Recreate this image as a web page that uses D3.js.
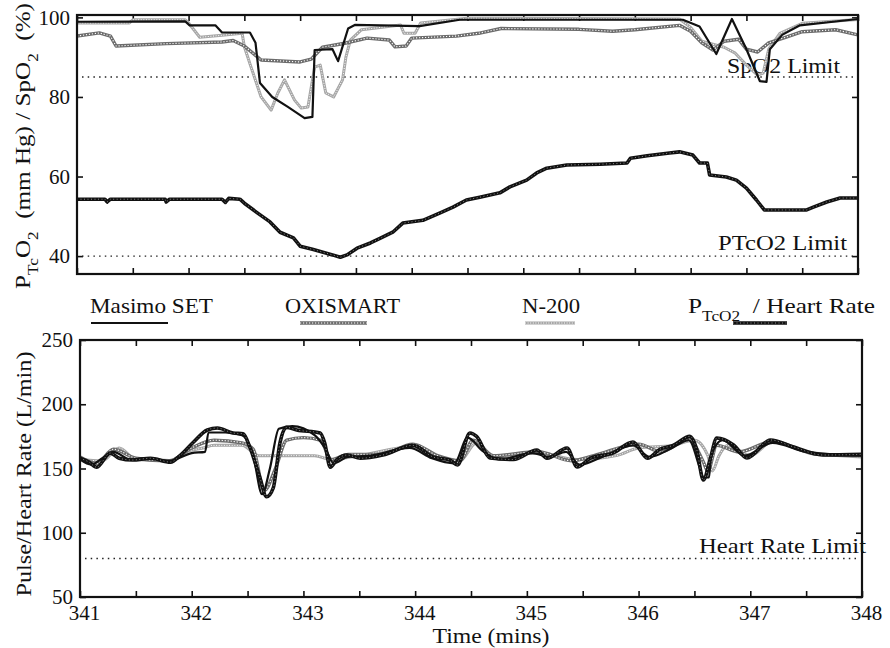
<!DOCTYPE html>
<html>
<head>
<meta charset="utf-8">
<script src="https://cdn.jsdelivr.net/npm/d3@7"></script>
<style>
  body { margin: 0; background: #fff; }
  svg text { font-family: "Liberation Serif", "Times New Roman", serif; fill: #111; }
</style>
</head>
<body>
<svg id="chart" width="890" height="648"></svg>
<script>
// ---- DATA ----
const timeTicks = [341, 341.5, 342, 342.5, 343, 343.5, 344, 344.5, 345, 345.5, 346, 346.5, 347, 347.5, 348];
const satTicks = [40, 60, 80, 100];
const rateTicks = [50, 100, 150, 200, 250];

const spo2Limit = 85;
const ptco2Limit = 40;
const hrLimit = 80;

const legendNames = ["Masimo SET", "OXISMART", "N-200", "PTcO2 / Heart Rate"];

// top panel: [time (mins), value]
const masimoSpo2 = [[341,98.9],[341.97,99],[342.01,98],[342.24,98],[342.3,96.2],[342.55,96.2],[342.6,93.6],[342.64,83.5],
  [342.75,80],[342.89,77.5],[343.04,74.7],[343.11,75],[343.13,91.8],[343.29,92],[343.34,89],[343.43,97.2],[343.49,98.1],
  [344.07,97.8],[344.43,99.4],[346.43,99.4],[346.58,97.7],[346.73,90.8],[346.87,99.6],[347.0,92],[347.12,84],[347.18,83.8],
  [347.21,92],[347.32,95.6],[347.48,98],[348,99.6]];

const oxismartSpo2 = [[341,95.3],[341.2,96.1],[341.3,95.3],[341.35,92.8],[341.8,93.4],[342.3,93.8],[342.4,94.2],[342.5,92.8],
  [342.65,89.3],[343.0,88.8],[343.1,89.5],[343.2,92.5],[343.4,93.5],[343.6,94.8],[343.8,94.3],[343.85,92.6],[343.95,92.8],
  [344.0,94.8],[344.4,95.3],[344.6,96.0],[344.8,97.2],[345.5,97.0],[345.8,96.5],[346.0,96.9],[346.4,98.0],[346.5,96.5],
  [346.6,93.6],[346.7,91.8],[346.8,94],[346.93,94.5],[347.0,92],[347.1,91.3],[347.2,93.6],[347.35,95],[347.5,96.4],
  [347.8,96.9],[348,95.6]];

const n200Spo2 = [[341,98.6],[341.47,98.6],[341.5,99.4],[341.97,99.4],[342.0,98.6],[342.1,95],[342.3,95.5],[342.48,96],
  [342.5,92.6],[342.56,87.5],[342.65,80],[342.74,76.7],[342.8,81],[342.86,84.3],[342.95,79.2],[343.01,77.2],[343.07,77.5],
  [343.13,87.5],[343.18,88],[343.23,81],[343.3,80],[343.38,84.3],[343.41,90],[343.45,94.3],[343.55,96.9],[343.9,98.1],
  [343.93,96],[344.03,96],[344.08,98.6],[344.5,99.8],[346.4,99.6],[346.5,97.5],[346.6,94],[346.8,92.5],[346.9,91],
  [347.0,88],[347.1,85.5],[347.15,86],[347.2,92],[347.3,96],[347.5,98.5],[348,99.5]];

const ptco2 = [[341,54.3],[341.25,54.3],[341.27,53.6],[341.3,54.3],[341.79,54.3],[341.8,53.6],[341.83,54.3],[342.3,54.3],
  [342.33,53.5],[342.36,54.5],[342.46,54.3],[342.5,53.3],[342.61,51.0],[342.73,48.6],[342.82,46.0],[342.94,44.6],
  [343.0,42.5],[343.11,41.7],[343.29,40.3],[343.36,39.7],[343.42,40.3],[343.51,42.0],[343.63,43.3],[343.72,44.5],
  [343.83,46.0],[343.92,48.3],[344.1,49.0],[344.25,50.8],[344.37,52.3],[344.49,54.1],[344.61,54.8],[344.79,55.9],
  [344.88,57.4],[345.03,59.1],[345.12,60.9],[345.21,62.1],[345.39,62.9],[345.69,63.1],[345.93,63.4],[345.96,64.6],
  [346.11,65.2],[346.31,65.9],[346.4,66.2],[346.52,65.4],[346.58,63.4],[346.65,63.4],[346.67,60.4],[346.82,59.9],
  [346.91,59.1],[347.0,57.1],[347.09,54.1],[347.16,51.6],[347.54,51.6],[347.6,52.3],[347.72,53.6],[347.84,54.6],[348,54.6]];

// bottom panel: [time (mins), rate]
const masimoRate = [[341,157],[341.1,153],[341.2,158],[341.3,163],[341.45,157],[341.6,158],[341.8,156],[342.0,162],
  [342.12,163],[342.15,178],[342.3,178],[342.45,176],[342.55,160],[342.63,130],[342.7,150],[342.78,181],[342.9,183],
  [343.1,176],[343.2,165],[343.27,154],[343.4,159],[343.6,160],[343.95,166],[344.15,158],[344.35,154],[344.47,174],
  [344.6,164],[344.75,157],[345.05,162],[345.2,159],[345.35,163],[345.47,153],[345.7,160],[345.95,168],[346.1,159],
  [346.3,166],[346.45,172],[346.55,150],[346.58,143],[346.63,143],[346.65,160],[346.75,172],[346.95,160],[347.2,170],
  [347.5,163],[348,160]];

const oxismartRate = [[341,159],[341.15,154],[341.3,165],[341.5,158],[341.8,156],[342.0,166],[342.2,172],[342.45,170],
  [342.55,165],[342.65,133],[342.75,150],[342.85,172],[343.0,174],[343.15,172],[343.25,157],[343.4,161],[343.7,161],
  [343.98,169],[344.2,160],[344.4,156],[344.52,172],[344.7,160],[345.1,163],[345.4,156],[345.6,160],[346.0,169],
  [346.2,163],[346.45,173],[346.58,155],[346.62,148],[346.7,168],[346.9,163],[347.2,171],[347.6,161],[348,160]];

const n200Rate = [[341,157],[341.2,156],[341.35,166],[341.5,157],[341.8,156],[341.95,163],[342.1,166],[342.2,168],
  [342.45,168],[342.6,160],[343.1,160],[343.25,157],[343.5,160],[343.98,167],[344.2,159],[344.4,156],[344.55,170],
  [344.7,159],[345.1,162],[345.45,157],[345.8,160],[346.0,166],[346.3,168],[346.5,172],[346.62,160],[346.66,148],
  [346.72,160],[346.8,168],[347.0,160],[347.2,171],[347.5,163],[348,159]];

const heartRate = [[341,158],[341.08,155],[341.15,151],[341.27,162],[341.35,158],[341.47,156.6],[341.63,158],[341.81,155],
  [341.9,160.5],[342.01,170],[342.14,180],[342.23,181.5],[342.37,177.6],[342.46,177],[342.52,166.7],[342.61,143],
  [342.67,128],[342.73,135],[342.79,170],[342.85,182],[342.94,180],[343.15,177.6],[343.19,170],[343.24,151],[343.3,157],
  [343.39,160.5],[343.51,158],[343.71,160.5],[343.98,168],[344.16,159],[344.31,156.6],[344.38,152.7],[344.49,177.6],
  [344.55,175],[344.67,158.2],[344.88,157],[345.09,164.4],[345.18,158],[345.36,166],[345.45,151.2],[345.57,158],
  [345.77,162],[345.95,170.6],[346.08,158],[346.19,165],[346.31,168],[346.46,175],[346.52,165],[346.58,141],
  [346.64,157],[346.7,173.7],[346.85,168.3],[346.97,158.2],[347.18,172.2],[347.38,167],[347.65,160.5],[348,161]];

// ---- line styles (scan look: gray lines are speckled) ----
const styles = {
  masimo:   [{ stroke: "#111", width: 2.2 }],
  oxismart: [{ stroke: "#6c6c6c", width: 3.4 }, { stroke: "#fff", width: 1.1, dash: "1.2,1.8" }],
  n200:     [{ stroke: "#a6a6a6", width: 3 }, { stroke: "#fff", width: 1, dash: "1,1.6" }],
  ptco2:    [{ stroke: "#111", width: 3.6 }, { stroke: "#8c8c8c", width: 1, dash: "1,2.5" }]
};

const svg = d3.select("#chart");

function fit(sel, w) {
  return sel.attr("textLength", w).attr("lengthAdjust", "spacingAndGlyphs");
}

function drawSeries(g, x, y, data, style, clipId, curve) {
  const line = d3.line().x(d => x(d[0])).y(d => y(d[1])).curve(curve || d3.curveLinear);
  style.forEach(s => {
    g.append("path")
      .datum(data)
      .attr("clip-path", `url(#${clipId})`)
      .attr("d", line)
      .attr("fill", "none")
      .attr("stroke", s.stroke)
      .attr("stroke-width", s.width)
      .attr("stroke-linejoin", "round")
      .attr("stroke-dasharray", s.dash || null);
  });
}

function drawLimit(g, x, y, value) {
  g.append("line")
    .attr("x1", x.range()[0] + 5).attr("x2", x.range()[1] - 2)
    .attr("y1", y(value)).attr("y2", y(value))
    .attr("stroke", "#222")
    .attr("stroke-width", 1.4)
    .attr("stroke-dasharray", "1.5,4.2");
}

function drawFrame(g, x, y, yTicks, clipId, showXLabels) {
  const [x0, x1] = x.range();
  const [y0, y1] = y.range();

  svg.append("clipPath").attr("id", clipId)
    .append("rect").attr("x", x0).attr("y", y1).attr("width", x1 - x0).attr("height", y0 - y1);

  // inward ticks on all four sides
  const bottom = g.append("g").attr("transform", `translate(0,${y0})`)
    .call(d3.axisBottom(x).tickValues(timeTicks).tickSize(-6).tickPadding(8)
      .tickFormat(d => showXLabels && Number.isInteger(d) ? d : ""));
  const top = g.append("g").attr("transform", `translate(0,${y1})`)
    .call(d3.axisTop(x).tickValues(timeTicks).tickSize(-6).tickFormat(""));
  const left = g.append("g").attr("transform", `translate(${x0},0)`)
    .call(d3.axisLeft(y).tickValues(yTicks).tickSize(-6).tickPadding(7));
  const right = g.append("g").attr("transform", `translate(${x1},0)`)
    .call(d3.axisRight(y).tickValues(yTicks).tickSize(-6).tickFormat(""));

  [bottom, top, left, right].forEach(a => {
    a.select(".domain").remove();
    a.selectAll("line").attr("stroke", "#111").attr("stroke-width", 1.6);
    a.selectAll("text").attr("font-size", 21).attr("fill", "#111")
      .style("font-family", "'Liberation Serif', serif");
  });
  bottom.selectAll("text").attr("dx", 4);
}

function outline(g, x, y) {
  const [x0, x1] = x.range();
  const [y0, y1] = y.range();
  g.append("rect")
    .attr("x", x0).attr("y", y1).attr("width", x1 - x0).attr("height", y0 - y1)
    .attr("fill", "none").attr("stroke", "#111").attr("stroke-width", 2.2);
}

// ---- TOP PANEL: PTcO2 / SpO2 ----
const xTop = d3.scaleLinear().domain([341, 348]).range([77, 858]);
const yTop = d3.scaleLinear().domain([35.5, 100.6]).range([274, 15]);
const gTop = svg.append("g");

drawFrame(gTop, xTop, yTop, satTicks, "clipTop", false);
drawLimit(gTop, xTop, yTop, spo2Limit);
drawLimit(gTop, xTop, yTop, ptco2Limit);

fit(gTop.append("text").attr("x", 727).attr("y", 73).attr("font-size", 22).text("SpO2 Limit"), 113);
fit(gTop.append("text").attr("x", 718).attr("y", 250).attr("font-size", 22).text("PTcO2 Limit"), 129);

drawSeries(gTop, xTop, yTop, n200Spo2, styles.n200, "clipTop");
drawSeries(gTop, xTop, yTop, oxismartSpo2, styles.oxismart, "clipTop");
drawSeries(gTop, xTop, yTop, masimoSpo2, styles.masimo, "clipTop");
drawSeries(gTop, xTop, yTop, ptco2, styles.ptco2, "clipTop");
outline(gTop, xTop, yTop);

// y title with subscripts
const topTitle = svg.append("text")
  .attr("transform", "translate(30,146) rotate(-90)")
  .attr("text-anchor", "middle")
  .attr("font-size", 22);
topTitle.append("tspan").text("P");
topTitle.append("tspan").attr("font-size", 15).attr("baseline-shift", "sub").text("Tc");
topTitle.append("tspan").text("O");
topTitle.append("tspan").attr("font-size", 15).attr("baseline-shift", "sub").text("2");
topTitle.append("tspan").text("\u00a0\u00a0(mm Hg) / SpO");
topTitle.append("tspan").attr("font-size", 15).attr("baseline-shift", "sub").text("2");
topTitle.append("tspan").text("\u00a0\u00a0(%)");
fit(topTitle, 286);

// ---- LEGEND ----
const legendPos = [
  { x: 90, w: 123, lx: [91, 168], style: styles.masimo },
  { x: 285, w: 115, lx: [300, 367], style: styles.oxismart },
  { x: 522, w: 58, lx: [525, 575], style: styles.n200 },
  { x: 688, w: 187, lx: [733, 787], style: styles.ptco2 }
];
const legend = svg.append("g");
legendNames.forEach((name, i) => {
  const p = legendPos[i];
  const t = legend.append("text").attr("x", p.x).attr("y", 313).attr("font-size", 22);
  if (name.startsWith("PTcO2")) {
    t.append("tspan").text("P");
    t.append("tspan").attr("font-size", 15).attr("baseline-shift", "sub").text("TcO");
    t.append("tspan").attr("font-size", 15).attr("baseline-shift", "sub").text("2");
    t.append("tspan").text("\u00a0\u00a0/ Heart Rate");
  } else {
    t.text(name);
  }
  fit(t, p.w);
  p.style.forEach(s => {
    legend.append("line")
      .attr("x1", p.lx[0]).attr("x2", p.lx[1]).attr("y1", 323).attr("y2", 323)
      .attr("stroke", s.stroke).attr("stroke-width", s.width)
      .attr("stroke-dasharray", s.dash || null);
  });
});

// ---- BOTTOM PANEL: pulse / heart rate ----
const xBot = d3.scaleLinear().domain([341, 348]).range([80, 862]);
const yBot = d3.scaleLinear().domain([50, 250]).range([597, 340]);
const gBot = svg.append("g");

drawFrame(gBot, xBot, yBot, rateTicks, "clipBot", true);
drawLimit(gBot, xBot, yBot, hrLimit);
fit(gBot.append("text").attr("x", 699).attr("y", 553).attr("font-size", 22).text("Heart Rate Limit"), 167);

const smooth = d3.curveMonotoneX;
drawSeries(gBot, xBot, yBot, n200Rate, styles.n200, "clipBot", smooth);
drawSeries(gBot, xBot, yBot, oxismartRate, styles.oxismart, "clipBot", smooth);
drawSeries(gBot, xBot, yBot, masimoRate, styles.masimo, "clipBot", smooth);
drawSeries(gBot, xBot, yBot, heartRate, styles.ptco2, "clipBot", smooth);
outline(gBot, xBot, yBot);

fit(svg.append("text")
  .attr("transform", "translate(31,474) rotate(-90)")
  .attr("text-anchor", "middle")
  .attr("font-size", 22)
  .text("Pulse/Heart Rate (L/min)"), 245);

fit(svg.append("text")
  .attr("x", 491).attr("y", 643)
  .attr("text-anchor", "middle")
  .attr("font-size", 21)
  .text("Time (mins)"), 117);
</script>
</body>
</html>
